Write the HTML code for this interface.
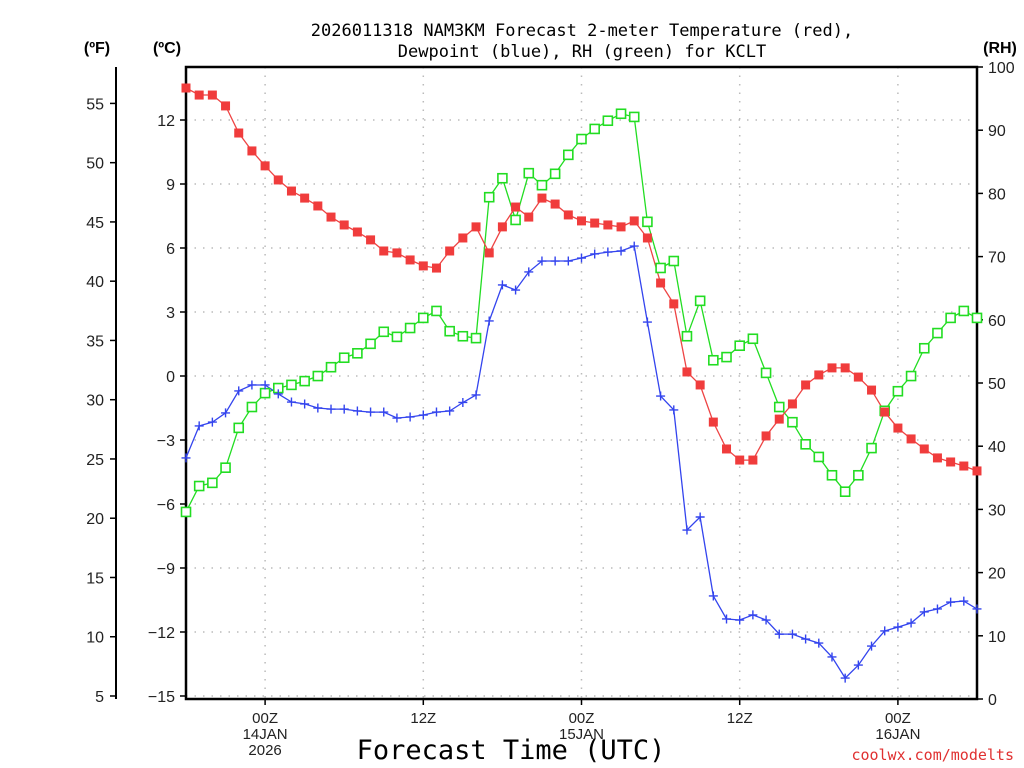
<!DOCTYPE html>
<html><head><meta charset="utf-8"><style>
html,body{margin:0;padding:0;background:#fff;}
svg{display:block;font-family:"Liberation Sans",sans-serif;}
</style></head><body>
<svg id="chart" width="1024" height="768" viewBox="0 0 1024 768" xmlns="http://www.w3.org/2000/svg">
<rect width="1024" height="768" fill="#fff"/>
<text x="582" y="36" text-anchor="middle" font-size="17" font-family="DejaVu Sans Mono, Liberation Mono, monospace">2026011318 NAM3KM Forecast 2-meter Temperature (red),</text>
<text x="582" y="57" text-anchor="middle" font-size="17" font-family="DejaVu Sans Mono, Liberation Mono, monospace">Dewpoint (blue), RH (green) for KCLT</text>
<text x="97" y="53" text-anchor="middle" font-size="16" font-weight="bold">(ºF)</text>
<text x="167" y="53" text-anchor="middle" font-size="16" font-weight="bold">(ºC)</text>
<text x="1000" y="53" text-anchor="middle" font-size="16" font-weight="bold">(RH)</text>
<text x="511" y="759" text-anchor="middle" font-size="27" font-family="DejaVu Sans Mono, Liberation Mono, monospace">Forecast Time (UTC)</text>
<text x="1014" y="760" text-anchor="end" font-size="15" fill="#e03030" font-family="DejaVu Sans Mono, Liberation Mono, monospace">coolwx.com/modelts</text>
<g id="grid"></g><g id="axes"></g><g id="series"></g>
</svg>
<script>
const hours = [];
for (let i = 0; i <= 60; i++) hours.push(i);
const tempC = [13.5,13.17,13.17,12.66,11.39,10.55,9.85,9.19,8.67,8.34,7.97,7.45,7.08,6.75,6.38,5.86,5.77,5.44,5.16,5.06,5.86,6.47,6.99,5.77,6.99,7.92,7.45,8.34,8.06,7.55,7.27,7.17,7.08,6.99,7.27,6.47,4.36,3.38,0.19,-0.42,-2.16,-3.42,-3.94,-3.94,-2.81,-2.02,-1.31,-0.42,0.05,0.38,0.38,-0.05,-0.66,-1.69,-2.44,-2.95,-3.42,-3.84,-4.03,-4.22,-4.45];
const dewC = [-3.84,-2.34,-2.16,-1.73,-0.70,-0.42,-0.42,-0.84,-1.22,-1.31,-1.50,-1.55,-1.55,-1.64,-1.69,-1.69,-1.97,-1.92,-1.83,-1.69,-1.64,-1.24,-0.89,2.58,4.27,4.03,4.88,5.39,5.39,5.39,5.53,5.72,5.81,5.86,6.09,2.53,-0.94,-1.59,-7.22,-6.61,-10.31,-11.39,-11.44,-11.20,-11.44,-12.10,-12.10,-12.33,-12.52,-13.17,-14.16,-13.55,-12.66,-11.95,-11.77,-11.58,-11.06,-10.92,-10.60,-10.55,-10.92];
const rh = [29.6,33.7,34.2,36.6,42.9,46.2,48.4,49.2,49.7,50.3,51.1,52.5,54.0,54.7,56.2,58.1,57.3,58.7,60.3,61.4,58.2,57.4,57.1,79.4,82.4,75.8,83.2,81.3,83.1,86.1,88.6,90.2,91.5,92.6,92.1,75.5,68.2,69.3,57.4,63.0,53.6,54.1,55.9,57.0,51.6,46.2,43.8,40.3,38.3,35.4,32.8,35.4,39.7,45.6,48.7,51.1,55.5,57.9,60.3,61.4,60.3];
const cTicks = [12,9,6,3,0,-3,-6,-9,-12,-15];
const cTickLabels = ["12","9","6","3","0","\u22123","\u22126","\u22129","\u221212","\u221215"];
const fTicks = [55,50,45,40,35,30,25,20,15,10,5];
const rhTicks = [100,90,80,70,60,50,40,30,20,10,0];
const xTickHours = [6,18,30,42,54];
const xTickLabels = [["00Z","14JAN","2026"],["12Z"],["00Z","15JAN"],["12Z"],["00Z","16JAN"]];

const L=186,R=977,T=67,B=699;
const xs = h => L + h*(R-L)/60;
const yC = c => 376 - c*21.333;
const yF = f => yC((f-32)*5/9);
const yRH = v => B - v*(B-T)/100;
const NS="http://www.w3.org/2000/svg";
function mk(tag, attrs, parent){const e=document.createElementNS(NS,tag);for(const k in attrs)e.setAttribute(k,attrs[k]);parent.appendChild(e);return e;}
const grid=document.getElementById('grid'), axes=document.getElementById('axes'), ser=document.getElementById('series');

cTicks.forEach((c,i)=>{
  const y=yC(c);
  const g=mk('line',{x1:L,x2:R,y1:y,y2:y,stroke:'#bbb','stroke-width':1.5,'stroke-dasharray':'1.5,7'},grid);
  
  
  const t=mk('line',{x1:L-6,x2:L,y1:y,y2:y,stroke:'#000','stroke-width':1.5},axes);
  
  
  const lb=mk('text',{x:L-11,y:y+6,'text-anchor':'end','font-size':16,fill:'#222'},axes);
  lb.textContent=cTickLabels[i];
  
  
});
xTickHours.forEach((h,i)=>{
  const x=xs(h);
  const g=mk('line',{x1:x,x2:x,y1:T,y2:B,stroke:'#bbb','stroke-width':1.5,'stroke-dasharray':'1.5,7'},grid);
  
  
  const t=mk('line',{x1:x,x2:x,y1:B,y2:B+6,stroke:'#000','stroke-width':1.5},axes);
  
  
  xTickLabels[i].forEach((s,j)=>{
    const lb=mk('text',{x:x,y:723+j*16,'text-anchor':'middle','font-size':15,fill:'#222'},axes);
    lb.textContent=s;
    
    
  });
});
fTicks.forEach(f=>{
  const y=yF(f);
  const t=mk('line',{x1:110,x2:116,y1:y,y2:y,stroke:'#000','stroke-width':1.5},axes);
  
  
  const lb=mk('text',{x:104,y:y+6,'text-anchor':'end','font-size':16,fill:'#222'},axes);
  lb.textContent=String(f);
  
  
});
rhTicks.forEach(v=>{
  const y=yRH(v);
  const t=mk('line',{x1:R,x2:R+6,y1:y,y2:y,stroke:'#000','stroke-width':1.5},axes);
  
  
  const lb=mk('text',{x:R+11,y:y+6,'text-anchor':'start','font-size':16,fill:'#222'},axes);
  lb.textContent=String(v);
  
  
});
const fl=mk('line',{x1:116,x2:116,y1:T,y2:B,stroke:'#000','stroke-width':2},axes);


const box=mk('rect',{x:L,y:T,width:R-L,height:B-T,fill:'none',stroke:'#000','stroke-width':2.5},axes);



function drawLine(vals,yf,color,name){
  const pts=vals.map((v,i)=>xs(hours[i]).toFixed(1)+','+yf(v).toFixed(1)).join(' ');
  const p=mk('polyline',{points:pts,fill:'none',stroke:color,'stroke-width':1.3},ser);
  
  
}
drawLine(rh,yRH,'#22dd22','rh');
drawLine(tempC,yC,'#ee4444','temperature');
drawLine(dewC,yC,'#3344ee','dewpoint');
rh.forEach((v,i)=>{
  const m=mk('rect',{x:xs(hours[i])-4.5,y:yRH(v)-4.5,width:9,height:9,fill:'#fff',stroke:'#22dd22','stroke-width':1.6},ser);
  
  
});
tempC.forEach((v,i)=>{
  const m=mk('rect',{x:xs(hours[i])-4.5,y:yC(v)-4.5,width:9,height:9,fill:'#f03c3c'},ser);
  
  
});
dewC.forEach((v,i)=>{
  const x=xs(hours[i]),y=yC(v);
  const m=mk('path',{d:`M${x-4.5},${y}H${x+4.5}M${x},${y-4.5}V${y+4.5}`,stroke:'#3344ee','stroke-width':1.4},ser);
  
  
});
</script>
</body></html>
